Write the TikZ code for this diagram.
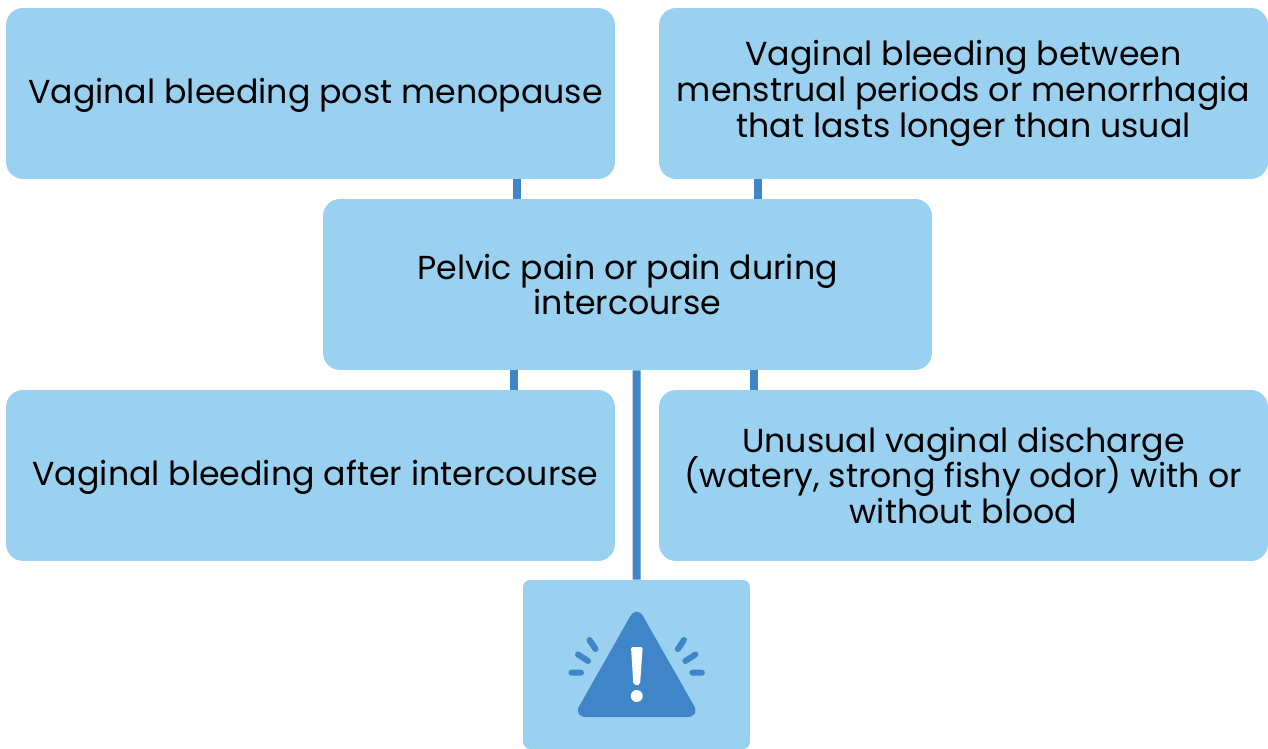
\documentclass[tikz,border=0pt]{standalone}
\usepackage{fontspec}
\setmainfont{Poppins}
\usepackage{xcolor}
\usepackage{tikz}
\definecolor{boxblue}{HTML}{9AD1F0}
\definecolor{linkblue}{HTML}{3F85C8}
\newcommand{\symptomfont}{\fontsize{18.9}{20.4}\selectfont\lineskiplimit=-10pt\relax}
\tikzset{
  symptom/.style={fill=boxblue,rounded corners=0.34cm,minimum width=12.18cm,minimum height=3.42cm,inner sep=0pt,align=center,font=\symptomfont},
  alertbox/.style={fill=boxblue,rounded corners=0.14cm,minimum width=4.54cm,minimum height=3.38cm,inner sep=0pt},
  link/.style={linkblue,line width=0.16cm},
  ray/.style={linkblue,line width=0.12cm,line cap=round}
}
\begin{document}
\begin{tikzpicture}[x=0.02cm,y=-0.02cm]
\useasboundingbox(0,0)rectangle(1268,749);
\node[symptom](postmeno)at(310.5,93.5){\raisebox{-1.1pt}[\height][\depth]{\hspace*{0.2cm}Vaginal bleeding post menopause}};
\node[symptom](between)at(963.5,93.5){Vaginal bleeding between\\menstrual periods or menorrhagia\\that lasts longer than usual};
\node[symptom](pelvic)at(627.5,284.5){Pelvic pain or pain during\\intercourse};
\node[symptom](aftersex)at(310.5,475.5){\raisebox{-1.1pt}[\height][\depth]{\hspace*{0.2cm}Vaginal bleeding after intercourse}};
\node[symptom](discharge)at(963.5,475.5){Unusual vaginal discharge\\(watery, strong fishy odor) with or\\without blood};
\node[alertbox](alert)at(636.5,664.5){};
\draw[link]([xshift=4.14cm]postmeno.south)--([xshift=4.14cm]postmeno.south|-pelvic.north);
\draw[link]([xshift=-4.11cm]between.south)--([xshift=-4.11cm]between.south|-pelvic.north);
\draw[link]([xshift=-2.27cm]pelvic.south)--([xshift=-2.27cm]pelvic.south|-aftersex.north);
\draw[link]([xshift=2.53cm]pelvic.south)--([xshift=2.53cm]pelvic.south|-discharge.north);
\draw[link]([xshift=0.18cm]pelvic.south)--(alert.north);
% warning sign
\fill[linkblue,rounded corners=0.26cm](636.7,605)--(700.4,717)--(573,717)--cycle;
\fill[white,rounded corners=0.04cm](631,647)--(642.7,647)--(640,685)--(633.4,685)--cycle;
\fill[white](636.7,696)circle(6);
\draw[ray](571.5,672.7)--(581,672.7)
(578,654.5)--(588,661)
(589.5,640)--(595.5,649);
\draw[ray](701.9,672.7)--(692.4,672.7)
(695.4,654.5)--(685.4,661)
(683.9,640)--(677.9,649);
\end{tikzpicture}
\end{document}
